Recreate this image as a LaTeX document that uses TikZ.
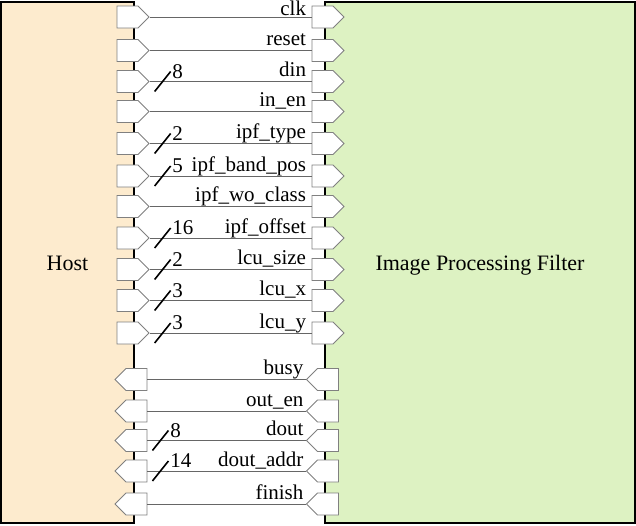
\documentclass[tikz,border=0pt]{standalone}
\usepackage{fontspec}
\setmainfont{Liberation Serif}
\usepackage{xcolor}
\usepackage{tikz}
\usetikzlibrary{shapes.symbols}
\definecolor{hostfill}{RGB}{253,235,206}
\definecolor{ipffill}{RGB}{221,242,194}

\begin{document}
\begin{tikzpicture}[
    x=1pt, y=-1pt,
    box/.style={
      draw,
      line width=2.8pt,
      minimum height=521pt,
      text height=15pt,
      text depth=0pt,
      font=\fontsize{22}{25}\selectfont
    },
    port/.style={
      draw=gray,
      fill=white,
      line width=0.9pt,
      shape=signal,
      signal from=nowhere,
      minimum width=32pt,
      minimum height=22pt,
      inner sep=0pt
    },
    inport/.style={port, signal to=east},
    outport/.style={port, signal to=west},
    wire/.style={draw=gray!80!black, line width=1pt},
    sig/.style={anchor=base east, inner sep=0pt, xshift=-5pt, yshift=5pt,
      font=\fontsize{21}{24}\selectfont},
    bus/.style={draw=black, line width=1.6pt},
    busw/.style={anchor=base west, inner sep=0pt, xshift=1pt, yshift=-6.5pt,
      font=\fontsize{21}{24}\selectfont}
]
\useasboundingbox (0,0) rectangle (636,525);
% the two blocks
\node[box, fill=hostfill, minimum width=133pt] (host) at (67.5,262.5) {Host};
\node[box, fill=ipffill, minimum width=310pt] (ipf) at (480,262.5) {Image Processing Filter};

% inputs of the filter
\node[inport] (hclk) at (127.5,17) {};
\node[inport] (fclk) at (322.5,17) {};
\draw[wire] (hclk.east) -- (fclk.west) node[sig, yshift=-3pt] (lclk) {clk};

\node[inport] (hreset) at (127.5,50.5) {};
\node[inport] (freset) at (322.5,50.5) {};
\draw[wire] (hreset.east) -- (freset.west) node[sig] (lreset) {reset};

\node[inport] (hdin) at (127.5,81.5) {};
\node[inport] (fdin) at (322.5,81.5) {};
\draw[wire] (hdin.east) -- (fdin.west) node[sig] (ldin) {din};
\draw[bus] ([shift={(5,10)}]hdin.east) -- ++(16,-20) node[busw] (wdin) {8};

\node[inport] (hinen) at (127.5,111.5) {};
\node[inport] (finen) at (322.5,111.5) {};
\draw[wire] (hinen.east) -- (finen.west) node[sig] (linen) {in\_en};

\node[inport] (htype) at (127.5,143.5) {};
\node[inport] (ftype) at (322.5,143.5) {};
\draw[wire] (htype.east) -- (ftype.west) node[sig] (ltype) {ipf\_type};
\draw[bus] ([shift={(5,10)}]htype.east) -- ++(16,-20) node[busw] (wtype) {2};

\node[inport] (hband) at (127.5,176) {};
\node[inport] (fband) at (322.5,176) {};
\draw[wire] (hband.east) -- (fband.west) node[sig] (lband) {ipf\_band\_pos};
\draw[bus] ([shift={(5,10)}]hband.east) -- ++(16,-20) node[busw] (wband) {5};

\node[inport] (hwo) at (127.5,206.5) {};
\node[inport] (fwo) at (322.5,206.5) {};
\draw[wire] (hwo.east) -- (fwo.west) node[sig] (lwo) {ipf\_wo\_class};

\node[inport] (hoffset) at (127.5,238) {};
\node[inport] (foffset) at (322.5,238) {};
\draw[wire] (hoffset.east) -- (foffset.west) node[sig] (loffset) {ipf\_offset};
\draw[bus] ([shift={(5,10)}]hoffset.east) -- ++(16,-20) node[busw] (woffset) {16};

\node[inport] (hsize) at (127.5,269.5) {};
\node[inport] (fsize) at (322.5,269.5) {};
\draw[wire] (hsize.east) -- (fsize.west) node[sig] (lsize) {lcu\_size};
\draw[bus] ([shift={(5,10)}]hsize.east) -- ++(16,-20) node[busw] (wsize) {2};

\node[inport] (hlcux) at (127.5,300.5) {};
\node[inport] (flcux) at (322.5,300.5) {};
\draw[wire] (hlcux.east) -- (flcux.west) node[sig] (llcux) {lcu\_x};
\draw[bus] ([shift={(5,10)}]hlcux.east) -- ++(16,-20) node[busw] (wlcux) {3};

\node[inport] (hlcuy) at (127.5,333) {};
\node[inport] (flcuy) at (322.5,333) {};
\draw[wire] (hlcuy.east) -- (flcuy.west) node[sig] (llcuy) {lcu\_y};
\draw[bus] ([shift={(5,10)}]hlcuy.east) -- ++(16,-20) node[busw] (wlcuy) {3};

% outputs of the filter
\node[outport] (hbusy) at (136.5,379.5) {};
\node[outport] (fbusy) at (328,379.5) {};
\draw[wire] (fbusy.west) node[sig, xshift=3pt] (lbusy) {busy} -- (hbusy.east);

\node[outport] (houten) at (136.5,411) {};
\node[outport] (fouten) at (328,411) {};
\draw[wire] (fouten.west) node[sig, xshift=3pt] (louten) {out\_en} -- (houten.east);

\node[outport] (hdout) at (136.5,440.5) {};
\node[outport] (fdout) at (328,440.5) {};
\draw[wire] (fdout.west) node[sig, xshift=3pt] (ldout) {dout} -- (hdout.east);
\draw[bus] ([shift={(5,10)}]hdout.east) -- ++(16,-20) node[busw] (wdout) {8};

\node[outport] (haddr) at (136.5,471) {};
\node[outport] (faddr) at (328,471) {};
\draw[wire] (faddr.west) node[sig, xshift=3pt] (laddr) {dout\_addr} -- (haddr.east);
\draw[bus] ([shift={(5,10)}]haddr.east) -- ++(16,-20) node[busw] (waddr) {14};

\node[outport] (hfinish) at (136.5,504) {};
\node[outport] (ffinish) at (328,504) {};
\draw[wire] (ffinish.west) node[sig, xshift=3pt] (lfinish) {finish} -- (hfinish.east);
\end{tikzpicture}
\end{document}
